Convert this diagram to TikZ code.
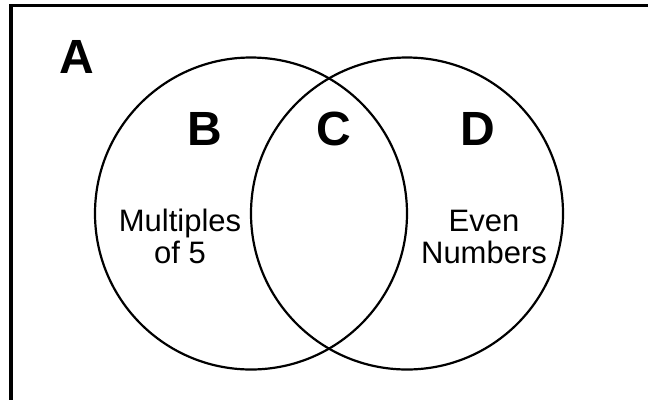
\documentclass[tikz,border=0pt]{standalone}
\usepackage{fontspec}
\setmainfont{Liberation Sans}
\begin{document}
\begin{tikzpicture}[x=1pt,y=-1pt,
  setcircle/.style={draw, circle, line width=2.2pt, minimum size=312pt, inner sep=0pt},
  biglabel/.style={font=\fontsize{48}{48}\selectfont\bfseries, anchor=base, inner sep=0pt},
  setlabel/.style={font=\fontsize{31}{31.5}\selectfont, align=center, anchor=base, inner sep=0pt}]
\useasboundingbox (0,0) rectangle (648,400);
\fill[white] (0,0) rectangle (648,400);
\coordinate (tr) at (648,5.5);
\coordinate (bl) at (10.7,400);
\draw[line width=3.8pt, line join=miter] (tr) -| (bl);
\node[setcircle] (left) at (251,213.5) {};
\node[setcircle] (right) at (407,213.5) {};
\node[biglabel] (A) at (77,73) {A};
\node[biglabel] (B) at (205,145) {B};
\node[biglabel] (C) at (334,145) {C};
\node[biglabel] (D) at (478,145) {D};
\node[setlabel] (mult) at (180,263.2) {Multiples\\of 5};
\node[setlabel] (even) at (484,263.2) {Even\\Numbers};
\end{tikzpicture}
\end{document}
